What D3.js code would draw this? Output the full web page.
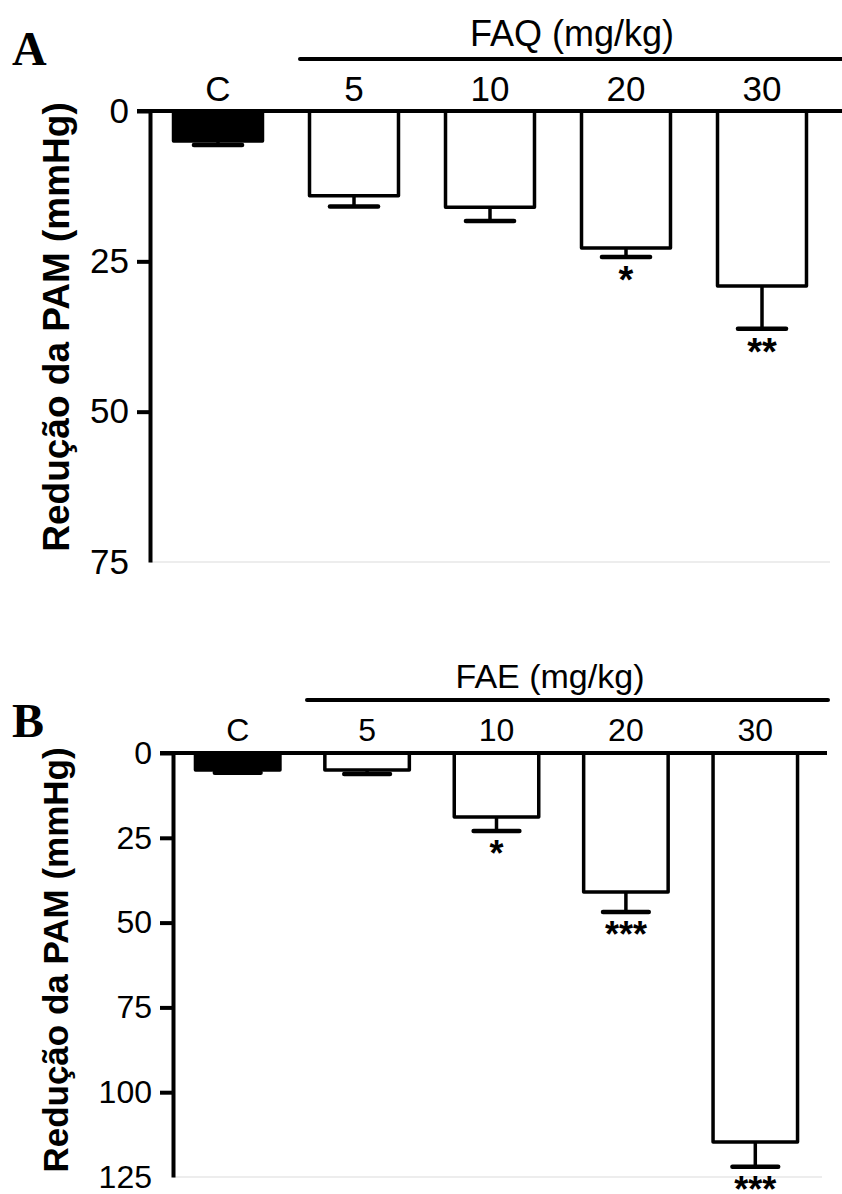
<!DOCTYPE html>
<html>
<head>
<meta charset="utf-8">
<script src="https://cdn.jsdelivr.net/npm/d3@7"></script>
<style>
  body { margin: 0; background: #fff; }
  svg { display: block; }
  text { font-family: "Liberation Sans", Arial, sans-serif; fill: #000; }
</style>
</head>
<body>
<div id="chart"></div>
<script>
const W = 842, H = 1194

// groups shared by both panels
const groups = ["C", "5", "10", "20", "30"]

// panel A, FAQ
const faqMean = [5.0, 14.1, 16.0, 22.8, 29.1]
const faqSem = [0.65, 1.8, 2.3, 1.5, 7.1]
const faqStars = ["", "", "", "*", "**"]
const faqTicks = [0, 25, 50, 75]

// panel B, FAE
const faeMean = [5.0, 5.0, 18.9, 41.0, 114.7]
const faeSem = [0.8, 1.2, 4.1, 5.9, 7.3]
const faeStars = ["", "", "*", "***", "***"]
const faeTicks = [0, 25, 50, 75, 100, 125]

const svg = d3.select("#chart").append("svg")
  .attr("width", W)
  .attr("height", H)

svg.append("rect").attr("width", W).attr("height", H).attr("fill", "#fff")

function drawPanel(p) {
  const g = svg.append("g")

  const x = d3.scaleBand()
    .domain(groups)
    .range([p.left, p.right])
    .paddingInner(0.32)
    .paddingOuter(0.16)

  const y = d3.scaleLinear()
    .domain([0, d3.max(p.ticks)])
    .range([p.top, p.bottom])

  // faint bottom line
  g.append("line")
    .attr("x1", p.left).attr("x2", p.grayEnd)
    .attr("y1", y(d3.max(p.ticks))).attr("y2", y(d3.max(p.ticks)))
    .attr("stroke", "#dcdcdc").attr("stroke-width", 1.2)

  // y axis
  const yAxis = d3.axisLeft(y)
    .tickValues(p.ticks)
    .tickSize(13)
    .tickSizeOuter(0)
    .tickPadding(8)
    .tickFormat(d3.format("d"))

  const ax = g.append("g")
    .attr("transform", `translate(${p.left},0)`)
    .call(yAxis)
  ax.select(".domain").attr("stroke", "#000").attr("stroke-width", 4)
  ax.selectAll(".tick line").attr("stroke", "#000").attr("stroke-width", 4)
  ax.selectAll(".tick").filter(d => d === d3.max(p.ticks)).select("line").remove()
  ax.selectAll(".tick text")
    .attr("font-size", p.tickFont)
    .attr("font-family", "Liberation Sans, Arial, sans-serif")
    .attr("fill", "#000")

  // bars
  const data = groups.map((k, i) => ({ k, m: p.mean[i], s: p.sem[i], star: p.stars[i] }))

  const bw = x.bandwidth()
  const capW = bw * 0.52

  const bars = g.selectAll(".bar").data(data).enter().append("g")

  bars.append("line")
    .attr("x1", d => x(d.k) + bw / 2).attr("x2", d => x(d.k) + bw / 2)
    .attr("y1", d => y(d.m)).attr("y2", d => y(d.m + d.s))
    .attr("stroke", "#000").attr("stroke-width", 3.5)

  bars.append("line")
    .attr("x1", d => x(d.k) + bw / 2 - capW / 2).attr("x2", d => x(d.k) + bw / 2 + capW / 2)
    .attr("y1", d => y(d.m + d.s)).attr("y2", d => y(d.m + d.s))
    .attr("stroke", "#000").attr("stroke-width", 4.5)
    .attr("stroke-linecap", "round")

  bars.append("rect")
    .attr("x", d => x(d.k) + 1.75)
    .attr("y", y(0))
    .attr("width", bw - 3.5)
    .attr("height", d => y(d.m) - y(0))
    .attr("fill", (d, i) => i === 0 ? "#000" : "#fff")
    .attr("stroke", "#000")
    .attr("stroke-width", 3.5)
    .attr("stroke-linejoin", "round")

  bars.append("text")
    .attr("x", d => x(d.k) + bw / 2)
    .attr("y", d => y(d.m + d.s) + 9 + 0.72 * p.starFont)
    .attr("text-anchor", "middle")
    .attr("font-size", p.starFont)
    .attr("font-weight", "bold")
    .text(d => d.star)

  // top axis line at zero
  g.append("line")
    .attr("x1", p.left - 13).attr("x2", p.axisEnd)
    .attr("y1", y(0)).attr("y2", y(0))
    .attr("stroke", "#000").attr("stroke-width", 4)

  // group labels
  g.selectAll(".cat").data(groups).enter().append("text")
    .attr("x", d => x(d) + bw / 2)
    .attr("y", p.catY)
    .attr("text-anchor", "middle")
    .attr("font-size", p.catFont)
    .text(d => d)

  // bracket + treatment label
  g.append("line")
    .attr("x1", p.bracket[0]).attr("x2", p.bracket[1])
    .attr("y1", p.bracketY).attr("y2", p.bracketY)
    .attr("stroke", "#000").attr("stroke-width", 4)
    .attr("stroke-linecap", "round")

  g.append("text")
    .attr("x", p.titleX)
    .attr("y", p.titleY)
    .attr("text-anchor", "middle")
    .attr("font-size", p.titleFont)
    .text(p.title)

  // y title
  g.append("text")
    .attr("transform", `translate(${p.yTitleX},${p.yTitleY}) rotate(-90)`)
    .attr("text-anchor", "middle")
    .attr("font-size", p.yTitleFont)
    .attr("font-weight", "bold")
    .text("Redução da PAM (mmHg)")

  // panel letter
  g.append("text")
    .attr("x", 12)
    .attr("y", p.letterY)
    .attr("font-weight", "bold")
    .attr("font-size", 48)
    .style("font-family", "'Liberation Serif', 'Times New Roman', serif")
    .text(p.letter)
}

drawPanel({
  letter: "A", letterY: 65,
  left: 150, right: 830, top: 111, bottom: 562,
  axisEnd: 842, grayEnd: 830,
  ticks: faqTicks, mean: faqMean, sem: faqSem, stars: faqStars,
  tickFont: 35, catFont: 35, titleFont: 36, starFont: 38, yTitleFont: 37,
  catY: 101, bracket: [300, 845], bracketY: 59,
  title: "FAQ (mg/kg)", titleX: 572, titleY: 46,
  yTitleX: 69, yTitleY: 327
})

drawPanel({
  letter: "B", letterY: 737,
  left: 173, right: 820, top: 753, bottom: 1177,
  axisEnd: 827, grayEnd: 822,
  ticks: faeTicks, mean: faeMean, sem: faeSem, stars: faeStars,
  tickFont: 32, catFont: 32, titleFont: 34, starFont: 36, yTitleFont: 35,
  catY: 741, bracket: [307, 828], bracketY: 700,
  title: "FAE (mg/kg)", titleX: 550, titleY: 688,
  yTitleX: 68, yTitleY: 960
})
</script>
</body>
</html>
